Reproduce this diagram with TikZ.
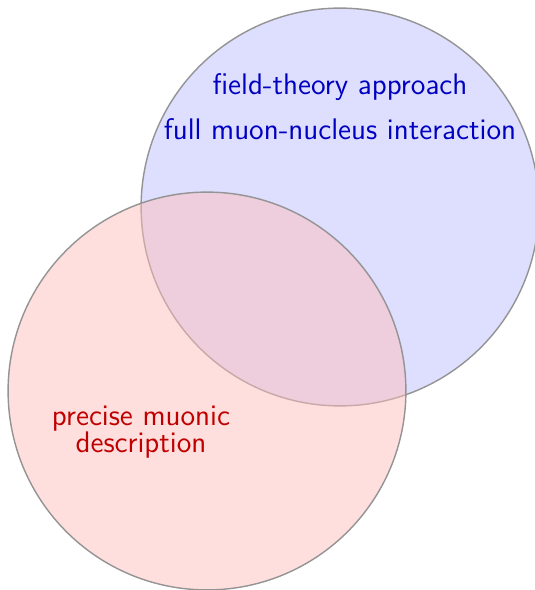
\documentclass[tikz,border=0pt]{standalone}
\usepackage{tikz}
\renewcommand{\familydefault}{\sfdefault}
\definecolor{fieldblue}{HTML}{0000C0}
\definecolor{muonred}{HTML}{C00000}
\tikzset{
  venn/.style={circle,draw=black!42,line width=0.65pt,minimum size=183pt,inner sep=0pt},
  fieldset/.style={venn,fill=blue!13},
  muonset/.style={venn,fill=red!26,fill opacity=0.5},
  lbl/.style={font=\sffamily\fontsize{13.7}{12.2}\selectfont,align=center,inner sep=0pt},
}
\begin{document}
\begin{tikzpicture}[x=0.46pt,y=-0.46pt]
  \useasboundingbox (0,0) rectangle (534,590);
  \node[fieldset] (field) at (340,207) {};
  \node[muonset] (muon) at (207,391) {};

  \node[lbl,text=fieldblue] (ftl) at (340,87) {field-theory approach};
  \node[lbl,text=fieldblue] (fmn) at (340,129) {full muon-nucleus interaction};
  \node[lbl,text=muonred] (pmd) at (141,432) {precise muonic\\description};
\end{tikzpicture}
\end{document}
